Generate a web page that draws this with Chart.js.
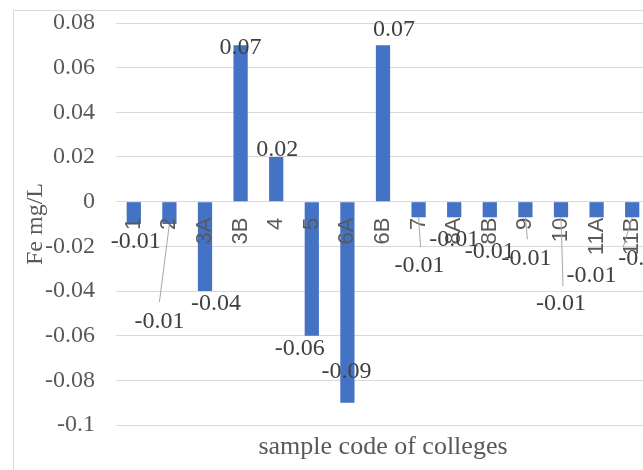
<!DOCTYPE html>
<html>
<head>
<meta charset="utf-8">
<title>Fe mg/L</title>
<script src="https://cdn.jsdelivr.net/npm/chart.js@4.4.1/dist/chart.umd.min.js"></script>
<style>
    html, body { margin: 0; padding: 0; background: #fff; overflow: hidden; }
    #wrap { width: 660px; height: 470px; }
</style>
</head>
<body>
<div id="wrap"><canvas id="fe-chart" width="660" height="470"></canvas></div>
<script>
// sample codes and Fe readings (mg/L)
const categories = ['1', '2', '3A', '3B', '4', '5', '6A', '6B', '7', '8A', '8B', '9', '10', '11A', '11B'];
const feValues = [-0.01, -0.01, -0.04, 0.07, 0.02, -0.06, -0.09, 0.07, -0.007, -0.007, -0.007, -0.007, -0.007, -0.007, -0.007];
const yTicks = [-0.1, -0.08, -0.06, -0.04, -0.02, 0, 0.02, 0.04, 0.06, 0.08];
const xTitle = 'sample code of colleges';
const yTitle = 'Fe mg/L';

// where each data label was dragged to in the original (offset from bar end)
const labelShift = [[2, 18], [-10, 98], [11, 13], [0, 2], [1, -7], [-12, 13], [-1, -31], [11, -16],
    [1, 48], [0, 22], [0, 34], [1, 41], [0, 86], [-5, 58], [11, 41]];
// leader lines: end point relative to the label centre
const leaderTo = { 1: [0, -20], 8: [1, -18], 11: [1, -19], 12: [2, -17], 14: [-20, -11] };

const SERIF = '"Liberation Serif", "Times New Roman", serif';
const SANS = '"Liberation Sans", Arial, sans-serif';
const GREY = '#595959';

// outer frame + axis title + data labels
const extras = {
    id: 'extras',
    afterDraw(chart) {
        const ctx = chart.ctx;
        const area = chart.chartArea;
        ctx.save();
        ctx.strokeStyle = '#d9d9d9';
        ctx.lineWidth = 1;
        ctx.strokeRect(13.5, 10.5, chart.width + 20, chart.height + 20);

        ctx.fillStyle = GREY;
        ctx.font = '26px ' + SERIF;
        ctx.textAlign = 'center';
        ctx.textBaseline = 'middle';
        ctx.fillText(xTitle, (area.left + area.right) / 2, 447);

        const bars = chart.getDatasetMeta(0).data;
        ctx.font = '24px ' + SERIF;
        bars.forEach((bar, i) => {
            const lx = bar.x + labelShift[i][0];
            const ly = bar.y + labelShift[i][1];
            if (leaderTo[i]) {
                ctx.strokeStyle = '#a6a6a6';
                ctx.beginPath();
                ctx.moveTo(bar.x, bar.y);
                ctx.lineTo(lx + leaderTo[i][0], ly + leaderTo[i][1]);
                ctx.stroke();
            }
            ctx.fillStyle = '#404040';
            ctx.fillText(feValues[i].toFixed(2), lx, ly);
        });
        ctx.restore();
    }
};

const ctx = document.getElementById('fe-chart').getContext('2d');
new Chart(ctx, {
    type: 'bar',
    data: {
        labels: categories,
        datasets: [{
            label: yTitle,
            data: feValues,
            backgroundColor: '#4472C4',
            barPercentage: 0.4,
            categoryPercentage: 1
        }]
    },
    options: {
        responsive: false,
        animation: false,
        layout: { padding: { top: 23, right: 10, bottom: 45, left: 0 } },
        plugins: { legend: { display: false }, tooltip: { enabled: false } },
        scales: {
            x: {
                position: { y: 0 },
                grid: { display: false, drawTicks: false },
                border: { display: true, color: '#d9d9d9' },
                ticks: {
                    z: 1,
                    minRotation: 90,
                    maxRotation: 90,
                    autoSkip: false,
                    padding: 16,
                    color: GREY,
                    font: { family: SANS, size: 22 }
                },
                afterFit(s) { s.paddingLeft = 0; s.paddingRight = 0; }
            },
            y: {
                min: yTicks[0],
                max: yTicks[yTicks.length - 1],
                ticks: {
                    stepSize: 0.02,
                    padding: 21,
                    color: GREY,
                    font: { family: SERIF, size: 24 },
                    callback: v => String(+v.toFixed(2))
                },
                grid: { color: '#d9d9d9', drawTicks: false },
                border: { display: false },
                title: {
                    display: true,
                    text: yTitle,
                    color: GREY,
                    font: { family: SERIF, size: 24 },
                    padding: { top: 21, bottom: 0 }
                },
                afterFit(s) { s.width = 116; s.paddingTop = 0; s.paddingBottom = 0; }
            }
        }
    },
    plugins: [extras]
});
</script>
</body>
</html>
